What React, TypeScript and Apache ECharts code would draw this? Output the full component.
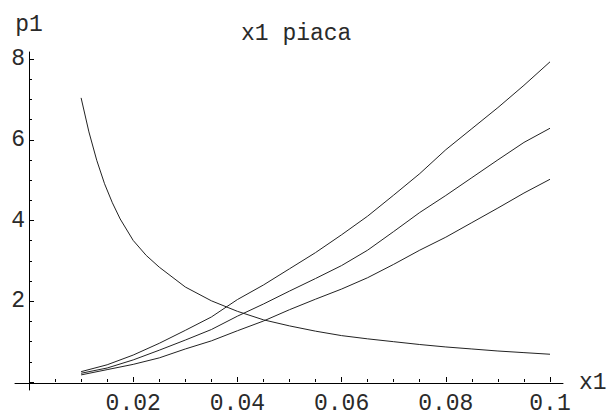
import React, { useEffect, useRef } from "react";
import * as echarts from "echarts";

// x values of the three rising curves
const X_VALUES = [0.01, 0.015, 0.02, 0.025, 0.03, 0.035, 0.04, 0.045, 0.05, 0.055, 0.06, 0.065, 0.07, 0.075, 0.08, 0.085, 0.09, 0.095, 0.1];
const P1_HIGH = [0.28, 0.45, 0.69, 0.98, 1.3, 1.63, 2.06, 2.42, 2.82, 3.22, 3.66, 4.12, 4.64, 5.17, 5.76, 6.28, 6.8, 7.35, 7.93];
const P1_MID = [0.24, 0.37, 0.57, 0.81, 1.06, 1.32, 1.65, 1.95, 2.27, 2.58, 2.9, 3.28, 3.74, 4.21, 4.63, 5.07, 5.51, 5.94, 6.29];
const P1_LOW = [0.2, 0.33, 0.46, 0.62, 0.84, 1.04, 1.29, 1.53, 1.81, 2.07, 2.32, 2.6, 2.93, 3.28, 3.6, 3.96, 4.32, 4.69, 5.03];

// falling curve
const FALL_X = [0.01, 0.0115, 0.013, 0.0145, 0.016, 0.0175, 0.02, 0.0225, 0.025, 0.03, 0.035, 0.04, 0.045, 0.05, 0.055, 0.06, 0.065, 0.07, 0.075, 0.08, 0.085, 0.09, 0.095, 0.1];
const FALL_Y = [7.04, 6.2, 5.5, 4.92, 4.45, 4.05, 3.52, 3.15, 2.86, 2.37, 2.03, 1.77, 1.56, 1.41, 1.28, 1.17, 1.09, 1.02, 0.95, 0.89, 0.84, 0.79, 0.75, 0.71];

const TITLE = "x1 piaca";
const X_NAME = "x1";
const Y_NAME = "p1";

const FONT = "'Liberation Mono', 'Courier New', monospace";
const INK = "#2a2a2a";

// pixel scale: 5210 px per x unit, 40.5 px per y unit
const X_MIN = -14 / 5210;
const X_MAX = 0.1 + 13 / 5210;
const Y_MIN = -7 / 40.5;
const Y_MAX = 8 + 7 / 40.5;

const pairs = (xs: number[], ys: number[]) => xs.map((x, i) => [x, ys[i]]);

export default function App() {
  const ref = useRef<HTMLDivElement>(null);
  useEffect(() => {
    if (!ref.current) return;
    const chart = echarts.init(ref.current, null, { renderer: "svg" });
    const lineStyle = { color: "#000", width: 1 };
    const text = { fontFamily: FONT, fontSize: 23, color: INK };
    const mkLine = (name: string, data: number[][]) => ({
      name,
      type: "line",
      xAxisIndex: 0,
      yAxisIndex: 0,
      data,
      showSymbol: false,
      symbol: "none",
      lineStyle: { color: "#222", width: 1 },
      silent: true,
    });
    chart.setOption({
      animation: false,
      title: {
        text: TITLE,
        left: 236,
        top: 17,
        textStyle: { ...text, fontWeight: "normal" },
      },
      grid: [
        { left: 15, right: 53, top: 52, bottom: 25 },
        { left: 29, right: 66, top: 59, bottom: 32 },
      ],
      xAxis: [
        {
          type: "value",
          gridIndex: 0,
          min: X_MIN,
          max: X_MAX,
          axisLine: { onZero: true, lineStyle },
          axisTick: { show: false },
          axisLabel: { show: false },
          splitLine: { show: false },
          name: X_NAME,
          nameLocation: "end",
          nameGap: 16,
          nameTextStyle: text,
        },
        {
          type: "value",
          gridIndex: 1,
          min: 0,
          max: 0.1,
          interval: 0.02,
          axisLine: { show: false },
          axisTick: { show: true, inside: true, length: 5, lineStyle },
          minorTick: { show: true, splitNumber: 4, length: 3, lineStyle },
          axisLabel: {
            margin: 10,
            ...text,
            formatter: (v: number) => (v === 0 ? "" : String(Number(v.toFixed(3)))),
          },
          splitLine: { show: false },
        },
      ],
      yAxis: [
        {
          type: "value",
          gridIndex: 0,
          min: Y_MIN,
          max: Y_MAX,
          axisLine: { show: true, onZero: true, lineStyle },
          axisTick: { show: false },
          axisLabel: { show: false },
          splitLine: { show: false },
          name: Y_NAME,
          nameLocation: "end",
          nameGap: 16,
          nameTextStyle: { ...text, align: "center" },
        },
        {
          type: "value",
          gridIndex: 1,
          min: 0,
          max: 8,
          interval: 2,
          axisLine: { show: false },
          axisTick: { show: true, inside: true, length: 5, lineStyle },
          minorTick: { show: true, splitNumber: 4, length: 3, lineStyle },
          axisLabel: {
            margin: 4,
            ...text,
            formatter: (v: number) => (v === 0 ? "" : String(v)),
          },
          splitLine: { show: false },
        },
      ],
      series: [
        mkLine("fall", pairs(FALL_X, FALL_Y)),
        mkLine("high", pairs(X_VALUES, P1_HIGH)),
        mkLine("mid", pairs(X_VALUES, P1_MID)),
        mkLine("low", pairs(X_VALUES, P1_LOW)),
      ],
    });
    return () => chart.dispose();
  }, []);
  return (
    <div
      ref={ref}
      style={{ position: "absolute", left: 0, top: 0, width: 616, height: 415, background: "#fff" }}
    />
  );
}
